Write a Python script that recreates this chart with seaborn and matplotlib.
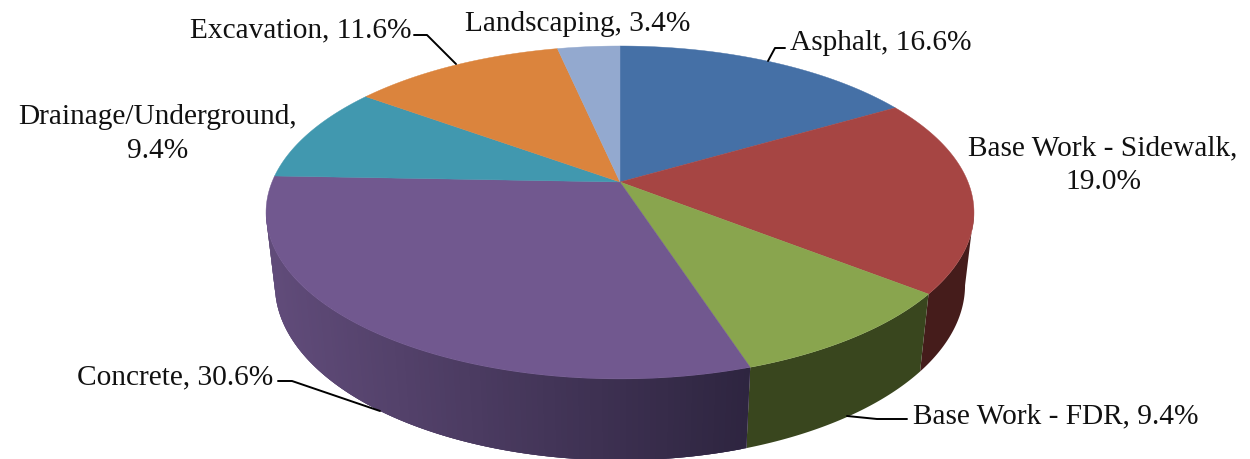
import numpy as np
import matplotlib
matplotlib.use("Agg")
import matplotlib.pyplot as plt
import seaborn as sns

categories = ["Asphalt", "Base Work - Sidewalk", "Base Work - FDR", "Concrete",
              "Drainage/Underground", "Excavation", "Landscaping"]
shares = [16.6, 19.0, 9.4, 30.6, 9.4, 11.6, 3.4]

top_colors = sns.color_palette(["#4570A6", "#A64543", "#89A54E", "#71588F",
                                "#4198AF", "#DB843D", "#93A9CF"])
wall_left = sns.color_palette(["#2A4263", "#451C1B", "#39461E", "#604B79",
                               "#27596A", "#824F24", "#58657C"])
wall_right = sns.color_palette(["#2A4263", "#451C1B", "#39461E", "#2E2540",
                                "#27596A", "#824F24", "#58657C"])

sns.set_theme(style="white")
plt.rcParams["font.family"] = ["Liberation Serif", "DejaVu Serif"]


# perspective view of the unit disc, fitted to the reference ellipse
def project(t, drop=0.0, shrink=0.0):
    w = 1 + 0.183 * np.cos(t) + shrink
    x = 620 + 348 * np.sin(t) / w
    y = (183 + drop - 127.4 * np.cos(t)) / w
    return x, y


def wall(ax, t1, t2, color):
    arc = np.linspace(t1, t2, 150)
    xt, yt = project(arc)
    xb, yb = project(arc[::-1], drop=78, shrink=0.025)
    ax.fill(np.r_[xt, xb], np.r_[yt, yb], color=color, lw=0, zorder=1)


fig, ax = plt.subplots(figsize=(12.5, 4.6), dpi=100)
fig.subplots_adjust(0, 0, 1, 1)
ax.set_xlim(0, 1250)
ax.set_ylim(460, 0)
ax.axis("off")

edges = np.radians(np.concatenate([[0], np.cumsum(shares)]) * 3.6)

# side wall, only between the two points where the outline turns back
for i in range(len(shares)):
    start = max(edges[i], np.radians(100.4))
    end = min(edges[i + 1], np.radians(259.6))
    if end <= start:
        continue
    wall(ax, start, end, wall_left[i])
    if wall_left[i] == wall_right[i]:
        continue
    # shaded slice: strips run a bit under the next one so no seams show
    ts = np.linspace(start, end, 121)
    step = ts[1] - ts[0]
    for a in ts[:-1]:
        x0, _ = project(np.array([a]))
        mix = np.clip((x0[0] - 277) / 473, 0, 1)
        c = (1 - mix) * np.array(wall_left[i]) + mix * np.array(wall_right[i])
        wall(ax, a, min(a + 2 * step, end), c)

# top face
for i in range(len(shares)):
    ts = np.linspace(edges[i], edges[i + 1], 120)
    x, y = project(ts)
    ax.fill(np.r_[620, x], np.r_[183, y], color=top_colors[i], lw=0.3, zorder=2)

label_text = [f"{c}, {v:.1f}%" for c, v in zip(categories, shares)]
label_text[1] = label_text[1].replace(", ", ",\n")
label_text[4] = label_text[4].replace(", ", ",\n")
label_pos = [(881, 43), (1103, 165), (1056, 416), (175, 377),
             (158, 134), (301, 30), (578, 24)]
for txt, (x, y) in zip(label_text, label_pos):
    ax.text(x, y, txt, ha="center", va="center", fontsize=21.2,
            color="#111111", linespacing=1.38, zorder=4)

# leader lines
leaders = [([785, 775, 768], [49, 49, 62]),
           ([414, 427, 456], [36, 36, 65]),
           ([847, 877, 907], [417, 420, 420]),
           ([278, 292, 380], [382, 382, 412])]
for xs, ys in leaders:
    ax.plot(xs, ys, color="black", lw=1.4, zorder=3)

fig.savefig("out.png", dpi=100)
